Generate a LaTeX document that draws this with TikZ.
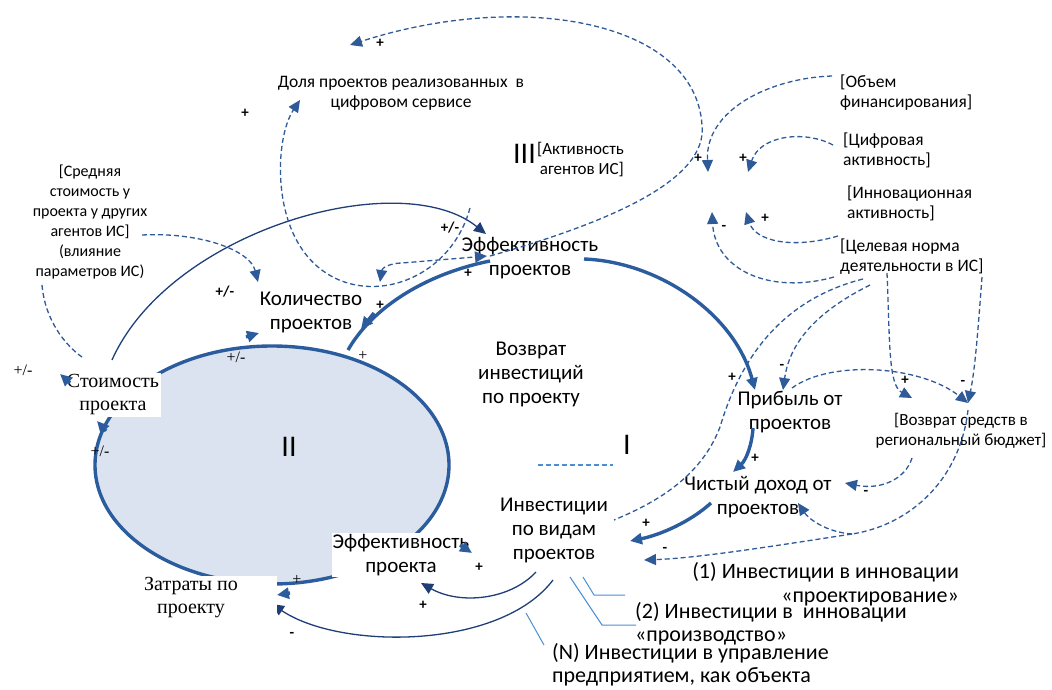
\documentclass[tikz,border=0pt]{standalone}
\usepackage{fontspec}
\setmainfont{Carlito}
\newfontfamily\timesru{Liberation Serif}
\usetikzlibrary{arrows.meta}

\definecolor{loopblue}{HTML}{2B5C9E}
\definecolor{dashblue}{HTML}{2F5A98}
\definecolor{darklink}{HTML}{1F3E78}
\definecolor{callblue}{HTML}{4A8ED8}
\definecolor{loopfill}{HTML}{DAE3EF}

\tikzset{
  cldtip/.tip={Triangle[length=12pt,width=11pt]},
  var/.style={font=\fontsize{21}{24}\selectfont, align=center, inner sep=1pt},
  varser/.style={font=\timesru\fontsize{20}{23}\selectfont, align=center, inner sep=2pt, fill=white},
  exo/.style={font=\fontsize{17.5}{20}\selectfont, align=left, inner sep=0pt},
  note/.style={font=\fontsize{22}{23.5}\selectfont, inner sep=0pt},
  sgn/.style={font=\bfseries\fontsize{15}{15}\selectfont, inner sep=0pt},
  sgnser/.style={font=\timesru\fontsize{16}{16}\selectfont, inner sep=0pt},
  loopno/.style={font=\fontsize{30}{30}\selectfont, inner sep=0pt},
  strong/.style={draw=loopblue, line width=3.4pt, -cldtip},
  weak/.style={draw=darklink, line width=1.3pt, -cldtip},
  dlink/.style={draw=dashblue, line width=1.3pt, dash pattern=on 5pt off 3pt, -cldtip},
  callout/.style={draw=callblue, line width=1pt},
}

\begin{document}
\begin{tikzpicture}[x=1pt,y=-1pt]
\useasboundingbox (0,0) rectangle (1052,690);

% loop II
\fill[loopfill] (272,465) ellipse [x radius=177, y radius=119];
\draw[loopblue, line width=3.4pt] (272,465) ellipse [x radius=177, y radius=119];

% variables
\node[var, font=\fontsize{17.5}{20}\selectfont] (dolya) at (401,93) {Доля проектов реализованных~ в\\цифровом сервисе};
\node[loopno, anchor=east] (loop3) at (536,154) {III};
\node[exo, font=\fontsize{17}{20}\selectfont, align=right, anchor=east] (activ) at (624,160) {[Активность\\агентов ИС]};
\node[exo, anchor=west] (objem) at (840,93) {[Объем\\финансирования]};
\node[exo, anchor=west] (cifr) at (843,150) {[Цифровая\\активность]};
\node[exo, anchor=west] (innov) at (847,203) {[Инновационная\\активность]};
\node[exo, anchor=west] (celev) at (840,257) {[Целевая норма\\деятельности в ИС]};
\node[exo, font=\fontsize{16}{20}\selectfont, align=center] (sredn) at (90,222) {[Средняя\\стоимость у\\проекта у других\\агентов ИС]\\(влияние\\параметров ИС)};
\node[exo, font=\fontsize{17}{20}\selectfont, align=center] (vozsr) at (961,431) {[Возврат средств в\\региональный бюджет]};
\node[var] (effproj) at (530,258) {Эффективность\\проектов};
\node[var] (kolich) at (311,312) {Количество\\проектов};
\node[var] (vozinv) at (531,374) {Возврат\\инвестиций\\по проекту};
\node[var] (pribyl) at (790,412) {Прибыль от\\проектов};
\node[var] (chist) at (758,497) {Чистый доход от\\проектов};
\node[var] (invest) at (554,530) {Инвестиции\\по видам\\проектов};
\node[loopno] (loop2) at (289,447) {II};
\node[loopno] (loop1) at (627,445) {I};
\node[note, align=right, anchor=east] (inv1) at (959,584) {(1) Инвестиции в инновации\\«проектирование»};
\node[note, align=left, anchor=west] (inv2) at (635,624) {(2) Инвестиции в~ инновации\\«производство»};
\node[note, align=left, anchor=west] (invN) at (552,665) {(N) Инвестиции в управление\\предприятием, как объекта};

% free ends
\coordinate (topend) at (350,45);
\coordinate (dolyain) at (300,100);
\coordinate (fin1) at (708,172);
\coordinate (fin2) at (748,172);
\coordinate (fin3) at (712,212);
\coordinate (fin4) at (746,212);
\coordinate (effin) at (487,256);
\coordinate (effin2) at (486,234);
\coordinate (kolin) at (258,282);
\coordinate (curvein) at (380,282);
\coordinate (pribin) at (755,390);
\coordinate (pribin2) at (783,390);
\coordinate (vozin1) at (912,398);
\coordinate (vozin2) at (968,403);
\coordinate (chistin) at (845,483);
\coordinate (chistin2) at (798,503);
\coordinate (split) at (852,534);
\coordinate (invin) at (630,541);
\coordinate (invin2) at (644,560);
\coordinate (dashend) at (614,520);

% thick links of loop I
\draw[strong] (584,259) .. controls (660,262) and (735,315) .. (pribin);
\draw[loopblue, line width=3.4pt] (490,261) .. controls (425,274) and (372,308) .. (348,350);
\draw[strong] (374,313) -- (361,329);
\draw[strong] (753,428) .. controls (752,445) and (746,460) .. (733,472);
\draw[strong] (711,503) .. controls (690,522) and (660,535) .. (invin);

% thin solid links
\draw[weak] (112,360) .. controls (170,230) and (400,165) .. (effin2);
\draw[weak] (536,572) .. controls (510,600) and (460,605) .. (421,583);
\draw[weak] (553,580) .. controls (500,650) and (340,650) .. (272,604);

% dashed links
\draw[dlink] (490,256) .. controls (610,222) and (708,180) .. (702,125) .. controls (695,20) and (520,-10) .. (topend);
\draw[dlink] (470,208) .. controls (445,300) and (320,320) .. (288,220) .. controls (275,180) and (280,130) .. (dolyain);
\draw[dlink, cldtip-cldtip] (curvein) .. controls (382,268) and (390,263) .. (402,263) -- (effin);
\draw[dlink] (142,235) .. controls (200,232) and (250,250) .. (kolin);
\draw[dlink, -] (42,285) .. controls (45,320) and (65,345) .. (82,357);
\draw[dlink] (832,76) .. controls (770,78) and (705,110) .. (fin1);
\draw[dlink] (833,145) .. controls (805,130) and (760,135) .. (fin2);
\draw[dlink] (838,236) .. controls (790,250) and (755,240) .. (fin4);
\draw[dlink] (834,277) .. controls (770,295) and (715,270) .. (fin3);
\draw[dlink, -] (863,279) .. controls (780,300) and (740,360) .. (720,427) .. controls (700,480) and (650,505) .. (dashend);
\draw[dlink] (870,285) .. controls (820,310) and (790,340) .. (pribin2);
\draw[dlink] (887,273) .. controls (890,340) and (888,385) .. (vozin1);
\draw[dlink] (982,277) .. controls (978,330) and (975,370) .. (vozin2);
\draw[dlink] (792,388) .. controls (830,360) and (920,365) .. (vozin2);
\draw[dlink] (912,458) .. controls (905,480) and (880,490) .. (chistin);
\draw[dlink, -] (968,410) .. controls (960,480) and (910,525) .. (split);
\draw[dlink] (split) .. controls (825,532) and (808,518) .. (chistin2);
\draw[dlink] (split) .. controls (780,545) and (700,558) .. (invin2);
\draw[draw=callblue, line width=1.3pt, dash pattern=on 5pt off 3pt] (538,465) -- (613,465);

% callouts to kinds of investment
\draw[callout] (583,577) -- (594,595) -- (625,595);
\draw[callout] (570,577) -- (602,625) -- (636,625);
\draw[callout] (526,613) -- (544,645);

% variables over loop II
\node[var, fill=white] (effpr) at (401,555) {Эффективность\\проекта};
\node[varser] (stoim) at (113,395) {Стоимость\\проекта};
\node[varser, minimum width=172pt] (zatr) at (191,598) {Затраты по\\проекту};

% heads on loop II
\draw[strong] (246,337) -- (259,333);
\draw[strong] (106,431) -- (97,421);
\draw[strong] (70,383) -- (60,374);
\draw[strong] (290,593) -- (277,595);
\draw[strong] (460,545) -- (472,553);

% polarities
\node[sgn] (p1) at (380,43) {+};
\node[sgn] (p2) at (245,113) {+};
\node[sgn] (p3) at (698,158) {+};
\node[sgn] (p4) at (743,158) {+};
\node[sgn] (p5) at (724,228) {-};
\node[sgn] (p6) at (765,218) {+};
\node[sgn] (p7) at (450,228) {+/-};
\node[sgn] (p8) at (225,292) {+/-};
\node[sgn] (p9) at (468,273) {+};
\node[sgn] (p10) at (380,305) {+};
\node[sgnser] (p11) at (23,370) {+/-};
\node[sgnser] (p12) at (100,451) {+/-};
\node[sgnser] (p13) at (236,357) {+/-};
\node[sgnser] (p14) at (363,356) {+};
\node[sgnser] (p15) at (297,580) {+};
\node[sgn] (p16) at (732,377) {+};
\node[sgn] (p17) at (782,367) {-};
\node[sgn] (p18) at (905,380) {+};
\node[sgn] (p19) at (963,383) {-};
\node[sgn] (p20) at (755,458) {+};
\node[sgn] (p21) at (866,493) {-};
\node[sgn] (p22) at (646,523) {+};
\node[sgn] (p23) at (665,550) {-};
\node[sgn] (p24) at (479,567) {+};
\node[sgn] (p25) at (423,605) {+};
\node[sgn] (p26) at (292,635) {-};
\end{tikzpicture}
\end{document}
